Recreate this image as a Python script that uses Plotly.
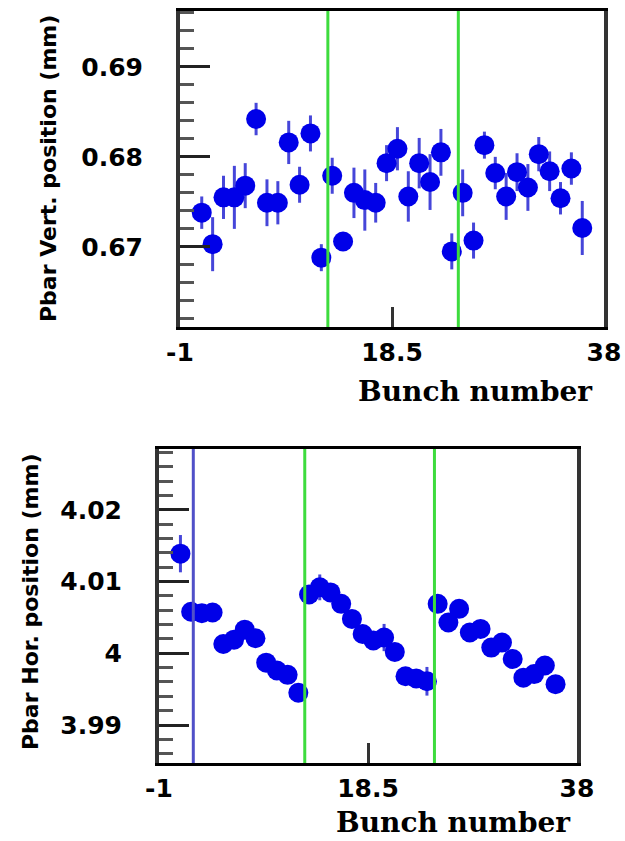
import plotly.graph_objects as go

# ---------------- data ----------------
bunch = list(range(1, 37))

vert_pos = [0.6738, 0.6703, 0.6755, 0.6755, 0.6768, 0.6842, 0.6749, 0.6749, 0.6816, 0.6769,
            0.6826, 0.6688, 0.6779, 0.6706, 0.6760, 0.6752, 0.6749, 0.6793, 0.6809, 0.6756,
            0.6793, 0.6772, 0.6805, 0.6695, 0.6760, 0.6707, 0.6813, 0.6782, 0.6756, 0.6783,
            0.6766, 0.6803, 0.6784, 0.6754, 0.6787, 0.6721]
vert_err = [0.0018, 0.0030, 0.0024, 0.0035, 0.0025, 0.0018, 0.0026, 0.0024, 0.0024, 0.0020,
            0.0020, 0.0015, 0.0020, 0.0010, 0.0028, 0.0034, 0.0022, 0.0020, 0.0024, 0.0028,
            0.0028, 0.0031, 0.0026, 0.0020, 0.0026, 0.0020, 0.0015, 0.0018, 0.0026, 0.0021,
            0.0026, 0.0019, 0.0022, 0.0018, 0.0018, 0.0030]

hor_pos = [4.0139, 4.0058, 4.0056, 4.0057, 4.0013, 4.0019, 4.0033, 4.0021, 3.9987, 3.9976,
           3.9970, 3.9945, 4.0082, 4.0092, 4.0085, 4.0069, 4.0048, 4.0027, 4.0018, 4.0022,
           4.0002, 3.9968, 3.9965, 3.9961, 4.0069, 4.0043, 4.0062, 4.0029, 4.0034, 4.0008,
           4.0015, 3.9992, 3.9966, 3.9971, 3.9983, 3.9957]
hor_err = [0.0026, 0.0010, 0.0010, 0.0010, 0.0010, 0.0010, 0.0012, 0.0010, 0.0010, 0.0010,
           0.0010, 0.0012, 0.0012, 0.0018, 0.0010, 0.0010, 0.0010, 0.0010, 0.0010, 0.0019,
           0.0010, 0.0010, 0.0010, 0.0020, 0.0010, 0.0010, 0.0010, 0.0010, 0.0010, 0.0010,
           0.0010, 0.0010, 0.0010, 0.0010, 0.0010, 0.0010]

x_tickvals = [-1, 18.5, 38]
x_ticktext = ["-1", "18.5", "38"]
vert_tickvals = [0.67, 0.68, 0.69]
vert_ticktext = ["0.67", "0.68", "0.69"]
hor_tickvals = [3.99, 4.00, 4.01, 4.02]
hor_ticktext = ["3.99", "4", "4.01", "4.02"]

top_train_edges = [12.6, 24.6]
bottom_train_edges = [12.6, 24.7]
bottom_blue_lines = [2.2]

# ---------------- styles ----------------
W, H = 625, 841
MARKER = dict(color="#0000e8", size=20, line=dict(width=0))
ERRC = "rgba(60,60,215,0.95)"
GREEN = "#3ddc3d"
TICKFONT = dict(family="DejaVu Sans", size=25, color="black", weight="bold")
TITLEFONT = dict(family="DejaVu Sans", size=22, color="black", weight="bold")
XTITLEFONT = dict(family="DejaVu Serif", size=28, color="black", weight="bold")


def px_x(p):
    return p / W


def px_y(p):
    return 1 - p / H


fig = go.Figure()
fig.add_trace(go.Scatter(
    x=bunch, y=vert_pos, mode="markers", marker=MARKER,
    error_y=dict(type="data", array=vert_err, color=ERRC, thickness=3, width=0),
    xaxis="x", yaxis="y", showlegend=False))
fig.add_trace(go.Scatter(
    x=bunch, y=hor_pos, mode="markers", marker=MARKER,
    error_y=dict(type="data", array=hor_err, color=ERRC, thickness=3, width=0),
    xaxis="x2", yaxis="y2", showlegend=False))

common_x = dict(
    range=[-1, 38], tickmode="array", tickvals=x_tickvals, ticktext=x_ticktext,
    ticks="inside", ticklen=20, tickwidth=3, tickcolor="#333", automargin=False,
    showline=True, linecolor="black", linewidth=3, mirror=True,
    showgrid=False, zeroline=False, tickfont=TICKFONT, ticklabelstandoff=1)
common_y = dict(
    tickmode="array", ticks="inside", ticklen=30, tickwidth=3, tickcolor="#222",
    minor=dict(dtick=0.002, tick0=0.0, ticks="inside", ticklen=14, tickwidth=3,
               tickcolor="#555", showgrid=False),
    showline=True, linecolor="#333", linewidth=4, mirror=True, automargin=False,
    showgrid=False, zeroline=False, tickfont=TICKFONT, ticklabelstandoff=28)

fig.update_layout(
    width=W, height=H, margin=dict(l=0, r=0, t=0, b=0, pad=0),
    paper_bgcolor="white", plot_bgcolor="white",
    xaxis=dict(domain=[px_x(180), px_x(604)], anchor="y", **common_x),
    yaxis=dict(domain=[px_y(327), px_y(11)], anchor="x", range=[0.6611, 0.6962],
               tickvals=vert_tickvals, ticktext=vert_ticktext, **common_y),
    xaxis2=dict(domain=[px_x(159), px_x(577)], anchor="y2", **common_x),
    yaxis2=dict(domain=[px_y(763), px_y(449)], anchor="x2", range=[3.9847, 4.0285],
                tickvals=hor_tickvals, ticktext=hor_ticktext, **common_y),
)

shapes = []
for v in top_train_edges:
    shapes.append(dict(type="line", xref="x", yref="y domain", x0=v, x1=v, y0=0, y1=1,
                       line=dict(color=GREEN, width=3)))
for v in bottom_train_edges:
    shapes.append(dict(type="line", xref="x2", yref="y2 domain", x0=v, x1=v, y0=0, y1=1,
                       line=dict(color=GREEN, width=3)))
for v in bottom_blue_lines:
    shapes.append(dict(type="line", xref="x2", yref="y2 domain", x0=v, x1=v, y0=0, y1=1,
                       line=dict(color="#5050c8", width=3)))
fig.update_layout(shapes=shapes)

fig.update_layout(annotations=[
    dict(text="Pbar Vert. position (mm)", xref="paper", yref="paper",
         x=px_x(48), y=px_y(169), textangle=-90, showarrow=False, font=TITLEFONT,
         xanchor="center", yanchor="middle"),
    dict(text="Pbar Hor. position (mm)", xref="paper", yref="paper",
         x=px_x(30), y=px_y(602), textangle=-90, showarrow=False, font=TITLEFONT,
         xanchor="center", yanchor="middle"),
    dict(text="Bunch number", xref="paper", yref="paper",
         x=px_x(475), y=px_y(391), showarrow=False, font=XTITLEFONT,
         xanchor="center", yanchor="middle"),
    dict(text="Bunch number", xref="paper", yref="paper",
         x=px_x(453), y=px_y(822), showarrow=False, font=XTITLEFONT,
         xanchor="center", yanchor="middle"),
])

fig.write_html("out.html",
               config={"displayModeBar": False},
               post_script="document.body.style.margin='0px';"
                           "document.body.style.overflow='hidden';")
